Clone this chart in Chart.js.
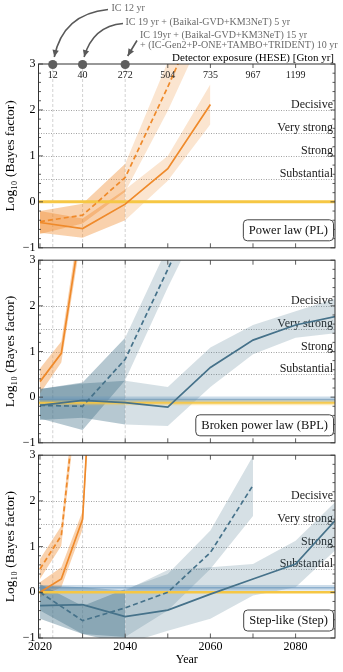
<!DOCTYPE html>
<html><head><meta charset="utf-8">
<script src="https://cdn.jsdelivr.net/npm/chart.js@4.4.0/dist/chart.umd.min.js"></script>
<style>
html,body{margin:0;padding:0;background:#fff;}
#wrap{position:relative;width:343px;height:672px;overflow:hidden;background:#fff;}
canvas{position:absolute;left:0;}
</style></head><body>
<div id="wrap">
<canvas id="c1" width="343" height="258" style="top:0px"></canvas>
<canvas id="c2" width="343" height="203" style="top:250px"></canvas>
<canvas id="c3" width="343" height="227" style="top:445px"></canvas>
</div>
<script>
// ---------------- data ----------------
const X_MIN = 2019.65, X_MAX = 2089.25;
const Y_MIN = -1, Y_MAX = 3;
const yTickValues = [-1, 0, 1, 2, 3];
const yearTickLabels = [2020, 2040, 2060, 2080];
const decadeTicks = [2020, 2030, 2040, 2050, 2060, 2070, 2080];
const evidenceLevels = [0.5, 1, 1.5, 2];
const evidenceLabels = ['Substantial', 'Strong', 'Very strong', 'Decisive'];
const milestoneYears = [2023, 2030, 2040];
const exposureYears = [2023, 2030, 2040, 2050, 2060, 2070, 2080];
const exposureLabels = ['12', '40', '272', '504', '735', '967', '1199'];
const exposureTitle = 'Detector exposure (HESE) [Gton yr]';
const annotationLines = [
  'IC 12 yr',
  'IC 19 yr + (Baikal-GVD+KM3NeT) 5 yr',
  'IC 19yr + (Baikal-GVD+KM3NeT) 15 yr',
  '+ (IC-Gen2+P-ONE+TAMBO+TRIDENT) 10 yr'
];
const panelLabels = ['Power law (PL)', 'Broken power law (BPL)', 'Step-like (Step)'];

// Power law
const plYears = [2020, 2030, 2040, 2050, 2060];
const plOrangeSolid   = [-0.45, -0.58, -0.05, 0.72, 2.12];
const plOrangeSolidLo = [-0.67, -0.78, -0.40, 0.46, 1.69];
const plOrangeSolidHi = [-0.20, -0.36, 0.27, 1.00, 2.56];
const plOrangeDashed   = [-0.43, -0.29, 0.53, 2.50, 4.60];
const plOrangeDashedLo = [-0.70, -0.47, 0.22, 1.98, 4.00];
const plOrangeDashedHi = [-0.20, -0.04, 0.83, 3.05, 5.30];
const plRefYellow = 0;

// Broken power law
const bplYears = [2020, 2030, 2040, 2050, 2060, 2070, 2080, 2090];
const bplBlueSolid   = [-0.18, -0.07, -0.12, -0.22, 0.65, 1.25, 1.58, 1.78];
const bplBlueSolidLo = [-0.50, -0.45, -0.60, -0.63, 0.22, 0.94, 1.30, 1.41];
const bplBlueSolidHi = [0.18, 0.30, 0.36, 0.22, 1.09, 1.58, 1.88, 2.18];
const bplDashYears = [2020, 2030, 2040, 2050, 2060];
const bplBlueDashed   = [-0.18, -0.20, 0.83, 2.80, 4.80];
const bplBlueDashedLo = [-0.47, -0.72, 0.37, 2.40, 4.30];
const bplBlueDashedHi = [0.18, 0.32, 1.30, 3.30, 5.30];
const bplOrangeYears = [2020, 2025, 2030];
const bplOrangeSolid   = [0.34, 0.96, 4.00];
const bplOrangeSolidLo = [0.08, 0.76, 3.70];
const bplOrangeSolidHi = [0.63, 1.22, 4.30];
const bplRefYellow = [-0.18, -0.12, -0.05];   // lo, centre, hi
const bplRefBlue   = [-0.11, -0.05, 0.015];

// Step-like
const stepYears = [2020, 2030, 2040, 2050, 2060, 2070, 2080, 2090];
const stepBlueSolid   = [-0.29, -0.27, -0.53, -0.39, -0.04, 0.29, 0.62, 1.64];
const stepBlueSolidLo = [-0.58, -0.91, -1.13, -0.84, -0.58, -0.07, 0.11, 0.98];
const stepBlueSolidHi = [0.15, 0.11, 0.04, 0.49, 0.55, 0.62, 1.13, 2.04];
const stepDashYears = [2020, 2030, 2040, 2050, 2060, 2070];
const stepBlueDashed   = [0.00, -0.62, -0.34, 0.00, 0.87, 2.34];
const stepBlueDashedLo = [-0.40, -0.91, -0.98, -0.40, 0.51, 1.67];
const stepBlueDashedHi = [0.18, -0.30, 0.07, 0.40, 1.35, 2.98];
const stepOrangeYears = [2020, 2025, 2030, 2040];
const stepOrangeSolid   = [0.00, 0.29, 1.60, 18.0];
const stepOrangeSolidLo = [-0.11, 0.11, 1.38, 17.0];
const stepOrangeSolidHi = [0.22, 0.55, 1.78, 19.0];
const stepOrangeDashYears = [2020, 2025, 2030];
const stepOrangeDashed   = [0.51, 1.24, 5.60];
const stepOrangeDashedLo = [0.29, 1.02, 5.20];
const stepOrangeDashedHi = [0.73, 1.45, 6.00];
const stepRefYellow = 0;
const stepRefBlue = [0.04, 0.10, 0.16];

// ---------------- style ----------------
const FONT = "'Liberation Serif','DejaVu Serif',serif";
const ORANGE = [239, 138, 43];
const BLUE = [70, 114, 138];
const YELLOW = [246, 199, 68];
const REFBLUE = [91, 141, 184];
const rgba = (c, a) => `rgba(${c[0]},${c[1]},${c[2]},${a})`;
const pts = (xs, ys) => xs.map((x, i) => ({x, y: ys[i]}));
const BAND_A = 0.22, BAND_A2 = 1 - (1 - BAND_A) ** 2;
const DOUBLE_UNTIL = 2040;

function band(xs, lo, hi, c) {
  return [
    {data: pts(xs, hi), borderWidth: 0, borderColor: 'transparent', pointRadius: 0, fill: '+1',
     backgroundColor: rgba(c, BAND_A), order: 10,
     segment: {backgroundColor: s => (s.p1.parsed.x <= DOUBLE_UNTIL ? rgba(c, BAND_A2) : undefined)}},
    {data: pts(xs, lo), borderWidth: 0, borderColor: 'transparent', pointRadius: 0, fill: false, order: 10}
  ];
}
function series(xs, ys, c, dashed) {
  return {data: pts(xs, ys), borderColor: rgba(c, 1), borderWidth: 1.7, borderDash: dashed ? [5, 3] : [],
          pointRadius: 0, fill: false, order: 1};
}
function hLine(level, c, w, a) {
  return {data: [{x: X_MIN, y: level}, {x: X_MAX, y: level}], borderColor: rgba(c, a), borderWidth: w,
          pointRadius: 0, fill: false, order: 3};
}
function hBand(lo, hi, c, a) {
  return [
    {data: [{x: X_MIN, y: hi}, {x: X_MAX, y: hi}], borderWidth: 0, borderColor: 'transparent', pointRadius: 0,
     fill: '+1', backgroundColor: rgba(c, a), order: 4},
    {data: [{x: X_MIN, y: lo}, {x: X_MAX, y: lo}], borderWidth: 0, borderColor: 'transparent', pointRadius: 0,
     fill: false, order: 4}
  ];
}

function strokeLine(ctx, x1, y1, x2, y2) { ctx.beginPath(); ctx.moveTo(x1, y1); ctx.lineTo(x2, y2); ctx.stroke(); }

function arrow(ctx, p0, c, p2) {
  ctx.beginPath(); ctx.moveTo(p0[0], p0[1]); ctx.quadraticCurveTo(c[0], c[1], p2[0], p2[1]); ctx.stroke();
  const ang = Math.atan2(p2[1] - c[1], p2[0] - c[0]);
  const L = 7, W = 3.2;
  ctx.beginPath();
  ctx.moveTo(p2[0], p2[1]);
  ctx.lineTo(p2[0] - L * Math.cos(ang) + W * Math.sin(ang), p2[1] - L * Math.sin(ang) - W * Math.cos(ang));
  ctx.lineTo(p2[0] - L * Math.cos(ang) - W * Math.sin(ang), p2[1] - L * Math.sin(ang) + W * Math.cos(ang));
  ctx.closePath(); ctx.fill();
}

const decor = {
  id: 'decor',
  beforeDatasetsDraw(chart, args, o) {
    const {ctx, chartArea: a, scales: {x, y}} = chart;
    ctx.save();
    ctx.strokeStyle = '#c6c6c6'; ctx.lineWidth = 0.8; ctx.setLineDash([3, 2]);
    milestoneYears.forEach(yr => { const px = x.getPixelForValue(yr); strokeLine(ctx, px, a.top, px, a.bottom); });
    ctx.strokeStyle = '#8a8a8a'; ctx.lineWidth = 0.8; ctx.setLineDash([1, 1.5]);
    evidenceLevels.forEach(v => { const py = Math.round(y.getPixelForValue(v)) + 0.5; strokeLine(ctx, a.left, py, a.right, py); });
    ctx.setLineDash([]);
    ctx.fillStyle = '#1a1a1a'; ctx.font = `12px ${FONT}`; ctx.textAlign = 'right'; ctx.textBaseline = 'alphabetic';
    evidenceLevels.forEach((v, i) => ctx.fillText(evidenceLabels[i], a.right - 2, y.getPixelForValue(v) - 2));
    ctx.restore();
  },
  afterDraw(chart, args, o) {
    const {ctx, chartArea: a, scales: {x, y}} = chart;
    ctx.save();
    // frame
    ctx.strokeStyle = '#333'; ctx.lineWidth = 1;
    ctx.strokeRect(a.left, a.top, a.right - a.left, a.bottom - a.top);
    // y ticks (inward, both sides)
    ctx.lineWidth = 0.8;
    for (let k = 0; k <= 20; k++) {
      const v = Y_MIN + k * 0.2;
      const py = y.getPixelForValue(v);
      const major = Math.abs(v - Math.round(v)) < 1e-6;
      const len = major ? 4.5 : 2.5;
      strokeLine(ctx, a.left, py, a.left + len, py);
      strokeLine(ctx, a.right, py, a.right - len, py);
    }
    // x ticks (inward)
    decadeTicks.forEach(v => {
      const px = x.getPixelForValue(v);
      strokeLine(ctx, px, a.bottom, px, a.bottom - 4.5);
      if (!o.top) strokeLine(ctx, px, a.top, px, a.top + 4.5);
    });
    // panel label box
    ctx.font = `12.5px ${FONT}`;
    const w = ctx.measureText(o.label).width + 11;
    const h = 21, r = 4;
    const bx = a.right - 1.5 - w, by = a.bottom - 7 - h;
    ctx.beginPath(); ctx.roundRect(bx, by, w, h, r);
    ctx.fillStyle = '#fff'; ctx.fill(); ctx.strokeStyle = '#444'; ctx.lineWidth = 1; ctx.stroke();
    ctx.fillStyle = '#111'; ctx.textAlign = 'center'; ctx.textBaseline = 'middle';
    ctx.fillText(o.label, bx + w / 2, by + h / 2 + 0.5);
    if (o.top) {
      // top exposure axis
      ctx.strokeStyle = '#333'; ctx.lineWidth = 0.8;
      exposureYears.forEach(v => { const px = x.getPixelForValue(v); strokeLine(ctx, px, a.top, px, a.top + 4); });
      ctx.fillStyle = '#222'; ctx.font = `10px ${FONT}`; ctx.textAlign = 'center'; ctx.textBaseline = 'middle';
      exposureYears.forEach((v, i) => ctx.fillText(exposureLabels[i], x.getPixelForValue(v), a.top + 11.5));
      ctx.fillStyle = '#000'; ctx.font = `11px ${FONT}`; ctx.textAlign = 'right'; ctx.textBaseline = 'alphabetic';
      ctx.fillText(exposureTitle, a.right - 1, a.top - 3.5);
      // annotations
      ctx.fillStyle = '#6a6a6a'; ctx.font = `10px ${FONT}`; ctx.textAlign = 'left';
      ctx.fillText(annotationLines[0], 111.5, 11);
      ctx.fillText(annotationLines[1], 125.5, 24.5);
      ctx.fillText(annotationLines[2], 140, 37.5);
      ctx.fillText(annotationLines[3], 140, 47.5);
      // arrows to milestone dots
      const d = milestoneYears.map(v => x.getPixelForValue(v));
      ctx.strokeStyle = '#595959'; ctx.fillStyle = '#595959'; ctx.lineWidth = 1.6;
      arrow(ctx, [108, 9.5], [63, 14], [d[0] + 1.5, a.top - 7]);
      arrow(ctx, [123, 23.5], [93, 26], [d[1] + 1.5, a.top - 7]);
      arrow(ctx, [137, 40.5], [133, 47], [d[2] + 2.5, a.top - 8]);
      // dots
      ctx.fillStyle = '#5e5e5e';
      d.forEach(px => { ctx.beginPath(); ctx.arc(px, a.top + 0.5, 4.6, 0, Math.PI * 2); ctx.fill(); });
    }
    ctx.restore();
  }
};

function makeChart(id, datasets, opts) {
  const tickFont = {family: FONT, size: 12};
  return new Chart(document.getElementById(id), {
    type: 'line',
    data: {datasets},
    plugins: [decor],
    options: {
      responsive: false, animation: false, devicePixelRatio: 1,
      layout: {padding: {top: opts.padTop, right: 8, bottom: opts.padBottom, left: 0}},
      elements: {line: {tension: 0}},
      plugins: {legend: {display: false}, tooltip: {enabled: false}, decor: {label: opts.label, top: opts.top}},
      scales: {
        x: {
          type: 'linear', min: X_MIN, max: X_MAX, display: opts.showX,
          afterBuildTicks: s => { s.ticks = yearTickLabels.map(value => ({value})); },
          ticks: {font: tickFont, color: '#000', padding: 2, maxRotation: 0, autoSkip: false, includeBounds: false,
                  callback: v => String(v)},
          grid: {display: false, drawTicks: false}, border: {display: false},
          title: {display: true, text: 'Year', font: tickFont, color: '#000', padding: {top: 0, bottom: 5}},
          afterFit: s => { s.height = opts.showX ? 34 : 0; }
        },
        y: {
          type: 'linear', min: Y_MIN, max: Y_MAX,
          afterBuildTicks: s => { s.ticks = yTickValues.map(value => ({value})); },
          ticks: {font: tickFont, color: '#000', padding: 3, callback: v => String(v).replace('-', '\u2212')},
          grid: {display: false, drawTicks: false}, border: {display: false},
          title: {display: true, text: 'Log\u2081\u2080 (Bayes factor)', font: {family: FONT, size: 13.5}, color: '#000',
                  padding: {top: 2, bottom: 0}},
          afterFit: s => { s.width = 38.5; }
        }
      }
    }
  });
}

// Panel 1: power law
makeChart('c1', [
  series(plYears, plOrangeSolid, ORANGE, false),
  series(plYears, plOrangeDashed, ORANGE, true),
  hLine(plRefYellow, YELLOW, 3, 1),
  ...band(plYears, plOrangeSolidLo, plOrangeSolidHi, ORANGE),
  ...band(plYears, plOrangeDashedLo, plOrangeDashedHi, ORANGE)
], {padTop: 64, padBottom: 9.5, label: panelLabels[0], top: true, showX: false});

// Panel 2: broken power law
makeChart('c2', [
  series(bplYears, bplBlueSolid, BLUE, false),
  series(bplDashYears, bplBlueDashed, BLUE, true),
  series(bplOrangeYears, bplOrangeSolid, ORANGE, false),
  hLine(bplRefBlue[1], REFBLUE, 1.5, 0.55),
  hLine(bplRefYellow[1], YELLOW, 2, 0.9),
  ...hBand(bplRefBlue[0], bplRefBlue[2], REFBLUE, 0.3),
  ...hBand(bplRefYellow[0], bplRefYellow[2], YELLOW, 0.35),
  ...band(bplYears, bplBlueSolidLo, bplBlueSolidHi, BLUE),
  ...band(bplDashYears, bplBlueDashedLo, bplBlueDashedHi, BLUE),
  ...band(bplOrangeYears, bplOrangeSolidLo, bplOrangeSolidHi, ORANGE)
], {padTop: 9, padBottom: 9.5, label: panelLabels[1], top: false, showX: false});

// Panel 3: step-like
makeChart('c3', [
  series(stepYears, stepBlueSolid, BLUE, false),
  series(stepDashYears, stepBlueDashed, BLUE, true),
  series(stepOrangeYears, stepOrangeSolid, ORANGE, false),
  series(stepOrangeDashYears, stepOrangeDashed, ORANGE, true),
  hLine(stepRefYellow, YELLOW, 2.5, 1),
  hLine(stepRefBlue[1], REFBLUE, 1.5, 0.55),
  ...hBand(stepRefBlue[0], stepRefBlue[2], REFBLUE, 0.3),
  ...band(stepYears, stepBlueSolidLo, stepBlueSolidHi, BLUE),
  ...band(stepDashYears, stepBlueDashedLo, stepBlueDashedHi, BLUE),
  ...band(stepOrangeYears, stepOrangeSolidLo, stepOrangeSolidHi, ORANGE),
  ...band(stepOrangeDashYears, stepOrangeDashedLo, stepOrangeDashedHi, ORANGE)
], {padTop: 9, padBottom: 0, label: panelLabels[2], top: false, showX: true});
</script>
</body></html>
